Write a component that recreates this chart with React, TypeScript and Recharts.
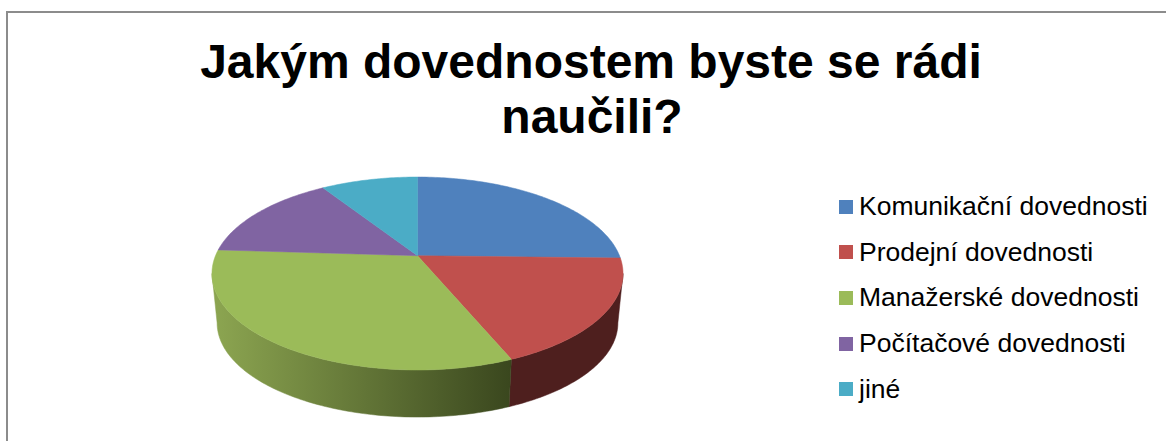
import { PieChart, Pie, Legend } from "recharts";

const skills = [
  "Komunikační dovednosti",
  "Prodejní dovednosti",
  "Manažerské dovednosti",
  "Počítačové dovednosti",
  "jiné",
];
const shares = [25.4, 18.3, 32.3, 14.9, 9.1];
const topColors = ["#4f81bd", "#c0504d", "#9bbb59", "#8064a2", "#4bacc6"];
const wallColors = ["#27405e", "#4e1f1e", "url(#greenWall)", "#403251", "#255663"];

const data = skills.map((name, i) => ({ name, value: shares[i] }));

const FONT = "'Liberation Sans', Arial, sans-serif";
const WIDTH = 1166;
const HEIGHT = 441;

// the tilted disc: a circle seen in perspective, so its centre sits above the middle of the ellipse
const TILT = 0.1845;
const SCALE_X = 2.02;
const SCALE_Y = 0.932;
const ELLIPSE_DROP = 17.8;
const WALL_DEPTH = 49.5;
const WALL_SHRINK = 0.975;

// the wall only faces the viewer between the left and right extremes of the rim
const SILHOUETTE = (Math.asin(TILT) * 180) / Math.PI;
const FRONT_START = -SILHOUETTE;
const FRONT_END = -180 + SILHOUETTE;

type Pt = [number, number];

const rimPoint = (cx: number, cy: number, r: number, deg: number): Pt => {
  const a = (deg * Math.PI) / 180;
  const u = Math.cos(a);
  const v = Math.sin(a);
  const w = 1 + TILT * v;
  return [cx + (SCALE_X * r * u) / w, cy - (SCALE_Y * r * v) / w];
};

const arcPoints = (p: any, from: number, to: number): Pt[] => {
  const steps = Math.max(2, Math.ceil(Math.abs(to - from)));
  const pts: Pt[] = [];
  for (let i = 0; i <= steps; i++) {
    pts.push(rimPoint(p.cx, p.cy, p.outerRadius, from + ((to - from) * i) / steps));
  }
  return pts;
};

const toPath = (pts: Pt[]) =>
  "M" + pts.map(([x, y]) => `${x.toFixed(2)},${y.toFixed(2)}`).join("L") + "Z";

const TopFace = (p: any) => {
  const fill = topColors[p.index];
  return (
    <path
      d={toPath([[p.cx, p.cy], ...arcPoints(p, p.startAngle, p.endAngle)])}
      fill={fill}
      stroke={fill}
      strokeWidth={0.5}
    />
  );
};

const SideWall = (p: any) => {
  const from = Math.min(p.startAngle, FRONT_START);
  const to = Math.max(p.endAngle, FRONT_END);
  if (from <= to) return <g />;
  const top = arcPoints(p, from, to);
  const midY = p.cy + ELLIPSE_DROP;
  const bottom = top
    .map(([x, y]): Pt => [
      p.cx + (x - p.cx) * WALL_SHRINK,
      midY + WALL_DEPTH + (y - midY) * WALL_SHRINK,
    ])
    .reverse();
  const fill = wallColors[p.index];
  return <path d={toPath([...top, ...bottom])} fill={fill} stroke={fill} strokeWidth={0.5} />;
};

// both pies report to the legend, so only the first entry per name is kept
const LegendList = ({ payload }: any) => {
  const items = (payload || []).slice(0, skills.length);
  return (
    <div style={{ fontFamily: FONT, fontSize: 26.5, color: "#000" }}>
      {items.map((item: any, i: number) => (
        <div key={item.value} style={{ display: "flex", alignItems: "center", height: 45.6 }}>
          <span
            style={{
              width: 14,
              height: 14,
              marginRight: 6,
              background: topColors[i],
              display: "inline-block",
            }}
          />
          <span>{item.value}</span>
        </div>
      ))}
    </div>
  );
};

export default function App() {
  return (
    <div
      style={{
        position: "absolute",
        left: 0,
        top: 0,
        width: WIDTH,
        height: HEIGHT,
        overflow: "hidden",
        background: "#fff",
      }}
    >
      <div
        style={{
          position: "absolute",
          left: 6,
          top: 11,
          right: -4,
          bottom: -4,
          borderLeft: "2px solid #8c8c8c",
          borderTop: "2px solid #8c8c8c",
        }}
      />
      <PieChart
        width={WIDTH}
        height={HEIGHT}
        margin={{ top: 0, right: 0, bottom: 0, left: 0 }}
        style={{ position: "absolute", left: 0, top: 0 }}
      >
        <defs>
          <linearGradient id="greenWall" gradientUnits="userSpaceOnUse" x1="218" y1="0" x2="510" y2="0">
            <stop offset="0%" stopColor="#8ba450" />
            <stop offset="100%" stopColor="#3a471e" />
          </linearGradient>
        </defs>
        <text
          x={591}
          y={78}
          textAnchor="middle"
          style={{ fontFamily: FONT, fontSize: 48, fontWeight: 700 }}
          fill="#000"
        >
          Jakým dovednostem byste se rádi
        </text>
        <text
          x={592}
          y={133}
          textAnchor="middle"
          style={{ fontFamily: FONT, fontSize: 48, fontWeight: 700 }}
          fill="#000"
        >
          naučili?
        </text>
        <Pie
          data={data}
          dataKey="value"
          nameKey="name"
          cx={417.5}
          cy={255.7}
          outerRadius={100}
          startAngle={90}
          endAngle={-270}
          stroke="none"
          legendType="none"
          shape={SideWall}
          isAnimationActive={false}
        />
        <Pie
          data={data}
          dataKey="value"
          nameKey="name"
          cx={417.5}
          cy={255.7}
          outerRadius={100}
          startAngle={90}
          endAngle={-270}
          stroke="none"
          shape={TopFace}
          isAnimationActive={false}
        />
        <Legend
          layout="vertical"
          itemSorter={null}
          content={<LegendList />}
          wrapperStyle={{ position: "absolute", left: 839, top: 184, width: 320, bottom: "auto", right: "auto" }}
        />
      </PieChart>
    </div>
  );
}
